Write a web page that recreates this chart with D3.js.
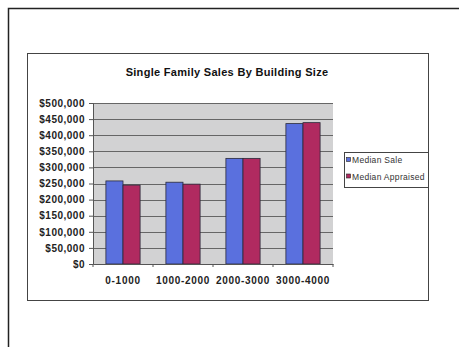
<!DOCTYPE html>
<html><head><meta charset="utf-8">
<script src="https://cdn.jsdelivr.net/npm/d3@7"></script>
<style>body{margin:0;background:#fff;}svg{display:block;font-family:Arial,"Liberation Sans",sans-serif;}</style>
</head><body><svg id="c" width="459" height="347"></svg>
<script>
const categories = ["0-1000","1000-2000","2000-3000","3000-4000"];
const medianSale = [258000, 254000, 328000, 436000];
const medianAppraised = [245000, 248000, 328000, 439000];
const seriesNames = ["Median Sale","Median Appraised"];
const yTicks = [0,50000,100000,150000,200000,250000,300000,350000,400000,450000,500000];
const colors = ["#5a70de","#b02a60"];

(function(){
const svg = d3.select("#c");
svg.append("path").attr("d","M8.5,347 L8.5,8.5 L459,8.5").attr("fill","none").attr("stroke","#222").attr("stroke-width",1.5);
svg.append("rect").attr("x",27.5).attr("y",53.5).attr("width",401).attr("height",247)
  .attr("fill","#fff").attr("stroke","#444").attr("stroke-width",1);

svg.append("text").attr("x",227).attr("y",76).attr("text-anchor","middle")
  .attr("font-size",11).attr("font-weight","bold").attr("letter-spacing",0.3).attr("fill","#111")
  .text("Single Family Sales By Building Size");

const pl=93, pr=333, pt=103, pb=264;
const x = d3.scaleBand().domain(categories).range([pl,pr]).paddingInner(0.43).paddingOuter(0.215);
const x1 = d3.scaleBand().domain(seriesNames).range([0,x.bandwidth()]);
const y = d3.scaleLinear().domain([0,500000]).range([pb,pt]);

svg.append("rect").attr("x",pl).attr("y",pt).attr("width",pr-pl).attr("height",pb-pt).attr("fill","#d2d2d3");
svg.append("g").selectAll("line").data(yTicks.slice(1)).join("line")
  .attr("x1",pl).attr("x2",pr).attr("y1",d=>Math.round(y(d))+0.5).attr("y2",d=>Math.round(y(d))+0.5)
  .attr("stroke","#666").attr("stroke-width",1);

const data = categories.map((c,i)=>({c, v:[medianSale[i], medianAppraised[i]]}));
const grp = svg.selectAll("g.cat").data(data).join("g").attr("class","cat").attr("transform",d=>`translate(${x(d.c)},0)`);
grp.selectAll("rect").data(d=>d.v.map((v,j)=>({v,s:seriesNames[j],j}))).join("rect")
  .attr("x",d=>x1(d.s)).attr("width",x1.bandwidth())
  .attr("y",d=>y(d.v)).attr("height",d=>pb-y(d.v))
  .attr("fill",d=>colors[d.j]).attr("stroke","#2a2a3a").attr("stroke-width",0.8);

const yAxis = d3.axisLeft(y).tickValues(yTicks).tickSize(4).tickFormat(d=>"$"+d3.format(",")(d));
const ya = svg.append("g").attr("transform",`translate(${pl},0)`).call(yAxis);
ya.selectAll("text").attr("font-size",10).attr("font-weight","bold").attr("letter-spacing",0.5).attr("fill","#222").attr("dx",-1);
ya.select(".domain").attr("stroke","#555");
ya.selectAll(".tick line").attr("stroke","#555");

const xAxis = d3.axisBottom(x).tickSize(0);
const xa = svg.append("g").attr("transform",`translate(0,${pb})`).call(xAxis);
xa.select(".domain").attr("stroke","#555");
xa.selectAll("text").attr("font-size",10).attr("font-weight","bold").attr("letter-spacing",0.7).attr("fill","#222").attr("dy",17);
svg.selectAll("line.sep").data([0,1,2,3,4]).join("line").attr("class","sep")
  .attr("x1",i=>pl+(pr-pl)/4*i).attr("x2",i=>pl+(pr-pl)/4*i)
  .attr("y1",pb).attr("y2",pb+3).attr("stroke","#555");

svg.append("clipPath").attr("id","lgclip").append("rect").attr("x",344).attr("y",150).attr("width",84).attr("height",40);
const lg = svg.append("g").attr("clip-path","url(#lgclip)");
lg.append("rect").attr("x",344.5).attr("y",152.5).attr("width",84).attr("height",35).attr("fill","#fff").attr("stroke","#444");
seriesNames.forEach((n,i)=>{
  const yy = 160 + i*16.5;
  lg.append("rect").attr("x",346.5).attr("y",yy-2.5).attr("width",4).attr("height",4).attr("fill",colors[i]).attr("stroke","#222").attr("stroke-width",0.6);
  lg.append("text").attr("x",352).attr("y",yy+3).attr("font-size",8.5).attr("letter-spacing",0.3).attr("fill","#333").text(n);
});
})();
</script></body></html>
